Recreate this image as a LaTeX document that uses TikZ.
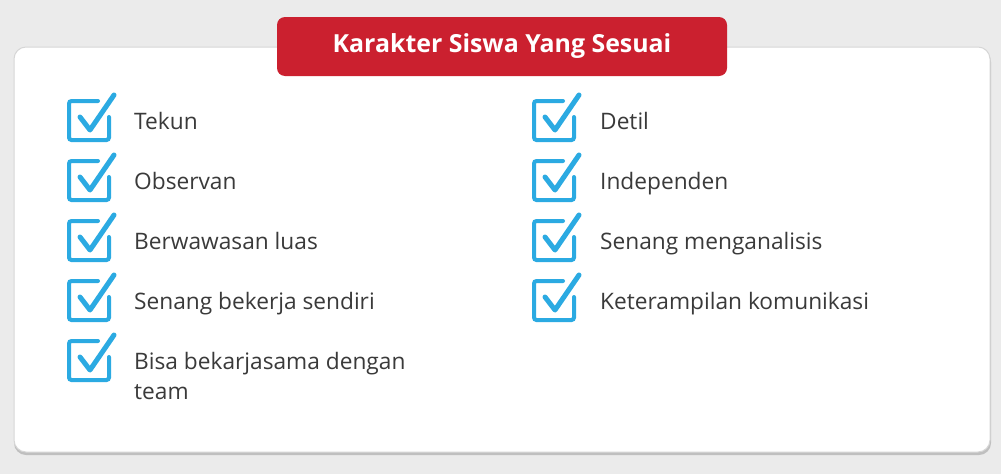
\documentclass[tikz,border=0pt]{standalone}
\usepackage{fontspec}
\setmainfont{Open Sans}
\definecolor{bgc}{HTML}{EBEBEB}
\definecolor{cardline}{HTML}{D6D6D6}
\definecolor{bannerred}{HTML}{CB202F}
\definecolor{checkblue}{HTML}{2BAAE2}
\definecolor{txt}{HTML}{3A3A3A}
\tikzset{
  itemtext/.style={anchor=base west, inner sep=0pt, text=txt, font=\fontsize{22.7}{27}\selectfont},
  chk/.pic={
    \draw[checkblue, line width=4pt, rounded corners=2.5pt, line cap=round]
      (31,2) -- (2,2) -- (2,41) -- (42,41) -- (42,18);
    \draw[checkblue, line width=5pt, line cap=round, line join=round]
      (13,18) -- (23,31) -- (47,-4);
  }
}
\begin{document}
\begin{tikzpicture}[x=1pt,y=-1pt]
\useasboundingbox (0,0) rectangle (1001,474);
\fill[bgc] (0,0) rectangle (1001,474);
% card shadow and card
\fill[black!25, rounded corners=12pt] (14,50) rectangle (991,455);
\draw[cardline, fill=white, line width=1pt, rounded corners=12pt] (14,47) rectangle (990,452);
% banner
\node[fill=bannerred, rounded corners=8pt, minimum width=450pt, minimum height=59pt, inner sep=0pt,
  text=white, font=\bfseries\fontsize{24.9}{29}\selectfont] (title) at (502,46.5) {Karakter Siswa Yang Sesuai};
% left column
\foreach \i/\t in {0/Tekun,1/Observan,2/Berwawasan luas,3/Senang bekerja sendiri}{
  \pic at (67,{99+60*\i}) {chk};
  \node[itemtext] (L\i) at (134,{129+60*\i}) {\t};
}
\pic at (67,339) {chk};
\node[itemtext] (L4) at (134,369) {Bisa bekarjasama dengan};
\node[itemtext] (L4b) at (134,399) {team};
% right column
\foreach \i/\t in {0/Detil,1/Independen,2/Senang menganalisis,3/Keterampilan komunikasi}{
  \pic at (532,{99+60*\i}) {chk};
  \node[itemtext] (R\i) at (600,{129+60*\i}) {\t};
}
\end{tikzpicture}
\end{document}
